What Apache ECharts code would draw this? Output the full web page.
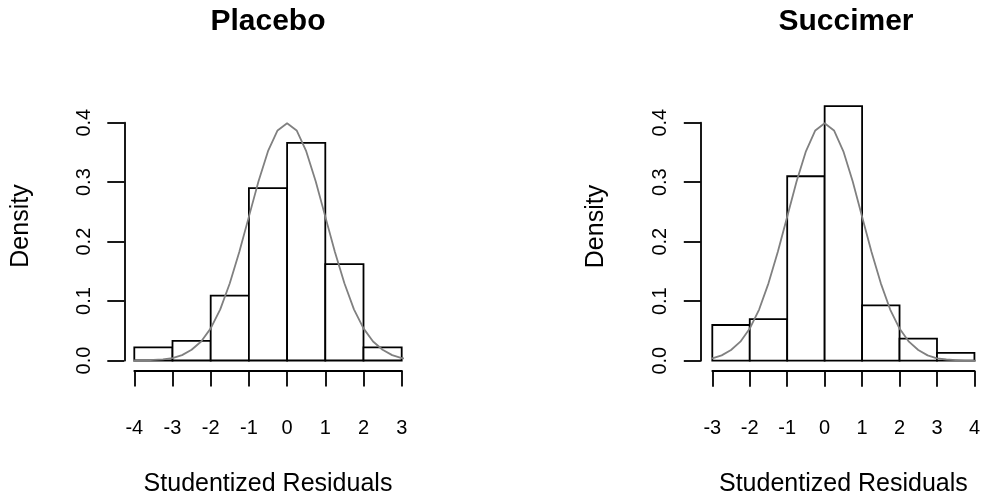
<!DOCTYPE html>
<html>
<head>
<meta charset="utf-8">
<script src="https://cdn.jsdelivr.net/npm/echarts@6/dist/echarts.min.js"></script>
<style>
  html, body { margin: 0; padding: 0; background: #fff; }
  #chart { width: 983px; height: 502px; }
</style>
</head>
<body>
<div id="chart"></div>
<script>
// Histogram bin edges and densities for each treatment group
const placeboBreaks = [-4, -3, -2, -1, 0, 1, 2, 3];
const placeboDensity = [0.022, 0.033, 0.109, 0.290, 0.366, 0.162, 0.022];

const succimerBreaks = [-3, -2, -1, 0, 1, 2, 3, 4];
const succimerDensity = [0.060, 0.070, 0.310, 0.428, 0.093, 0.037, 0.013];

// Reference standard normal density curve (x, density)
const normalX = [-4.25, -4.0, -3.75, -3.5, -3.25, -3.0, -2.75, -2.5, -2.25, -2.0, -1.75, -1.5, -1.25, -1.0, -0.75, -0.5, -0.25,
                 0.0, 0.25, 0.5, 0.75, 1.0, 1.25, 1.5, 1.75, 2.0, 2.25, 2.5, 2.75, 3.0, 3.25, 3.5, 3.75, 4.0, 4.25];
const normalY = [0.000, 0.000, 0.000, 0.001, 0.002, 0.004, 0.009, 0.018, 0.032, 0.054, 0.086, 0.130, 0.183, 0.242, 0.301, 0.352, 0.387,
                 0.399, 0.387, 0.352, 0.301, 0.242, 0.183, 0.130, 0.086, 0.054, 0.032, 0.018, 0.009, 0.004, 0.002, 0.001, 0.000, 0.000, 0.000];

// Density tick values
const densityTicks = [0, 0.1, 0.2, 0.3, 0.4];

const FONT = '"Liberation Sans", Arial, Helvetica, sans-serif';
const INK = '#000';
const CURVE = '#808080';

function binRows(breaks, dens) {
  return dens.map((d, i) => [breaks[i], breaks[i + 1], d]);
}

function curveRows(lo, hi) {
  const rows = [];
  normalX.forEach((x, i) => { if (x >= lo && x <= hi) rows.push([x, normalY[i]]); });
  return rows;
}

function renderBar(params, api) {
  const p0 = api.coord([api.value(0), api.value(2)]);
  const p1 = api.coord([api.value(1), 0]);
  return {
    type: 'rect',
    shape: { x: p0[0], y: p0[1], width: p1[0] - p0[0], height: p1[1] - p0[1] },
    style: { fill: '#fff', stroke: INK, lineWidth: 1.8 }
  };
}

function xAxisFor(idx, breaks) {
  return {
    type: 'value', gridIndex: idx,
    min: breaks[0], max: breaks[breaks.length - 1], interval: 1,
    position: 'bottom', offset: 10,
    axisLine: { show: true, onZero: false, lineStyle: { color: INK, width: 1.8 } },
    axisTick: { show: true, length: 16, lineStyle: { color: INK, width: 1.8 } },
    axisLabel: { color: INK, fontFamily: FONT, fontSize: 20, margin: 48 },
    splitLine: { show: false },
    name: 'Studentized Residuals', nameLocation: 'middle', nameGap: 101,
    nameTextStyle: { color: INK, fontFamily: FONT, fontSize: 25 }
  };
}

function yAxisFor(idx, off) {
  return {
    type: 'value', gridIndex: idx,
    min: densityTicks[0], max: densityTicks[densityTicks.length - 1], interval: 0.1,
    position: 'left', offset: off,
    axisLine: { show: true, onZero: false, lineStyle: { color: INK, width: 1.8 } },
    axisTick: { show: true, length: 17, lineStyle: { color: INK, width: 1.8 } },
    axisLabel: { color: INK, fontFamily: FONT, fontSize: 20, rotate: 90, margin: 30,
                 formatter: v => v.toFixed(1) },
    splitLine: { show: false }
  };
}

const chart = echarts.init(document.getElementById('chart'), null, { renderer: 'canvas' });

chart.setOption({
  animation: false,
  backgroundColor: '#fff',
  grid: [
    { left: 134.3, top: 122.7, width: 267.4, height: 237.8 },
    { left: 712.3, top: 122.7, width: 267.0, height: 238.0 }
  ],
  xAxis: [xAxisFor(0, placeboBreaks), xAxisFor(1, succimerBreaks)],
  yAxis: [yAxisFor(0, 10), yAxisFor(1, 11.5)],
  graphic: [
    { type: 'text', x: 268, y: 22, style: { text: 'Placebo', font: 'bold 30px ' + FONT, fill: INK, textAlign: 'center', textVerticalAlign: 'middle' } },
    { type: 'text', x: 846, y: 22, style: { text: 'Succimer', font: 'bold 30px ' + FONT, fill: INK, textAlign: 'center', textVerticalAlign: 'middle' } },
    { type: 'text', x: 21, y: 226, rotation: Math.PI / 2, style: { text: 'Density', font: '25px ' + FONT, fill: INK, textAlign: 'center', textVerticalAlign: 'middle' } },
    { type: 'text', x: 596, y: 226.5, rotation: Math.PI / 2, style: { text: 'Density', font: '25px ' + FONT, fill: INK, textAlign: 'center', textVerticalAlign: 'middle' } }
  ],
  series: [
    {
      type: 'custom', name: 'Placebo', xAxisIndex: 0, yAxisIndex: 0,
      renderItem: renderBar, encode: { x: [0, 1], y: 2 }, clip: false,
      data: binRows(placeboBreaks, placeboDensity), z: 2
    },
    {
      type: 'line', xAxisIndex: 0, yAxisIndex: 0, clip: false,
      showSymbol: false, symbol: 'none',
      lineStyle: { color: CURVE, width: 1.8 },
      data: curveRows(-4.3, 3.3), z: 3
    },
    {
      type: 'custom', name: 'Succimer', xAxisIndex: 1, yAxisIndex: 1,
      renderItem: renderBar, encode: { x: [0, 1], y: 2 }, clip: false,
      data: binRows(succimerBreaks, succimerDensity), z: 2
    },
    {
      type: 'line', xAxisIndex: 1, yAxisIndex: 1, clip: false,
      showSymbol: false, symbol: 'none',
      lineStyle: { color: CURVE, width: 1.8 },
      data: curveRows(-3.3, 4.3), z: 3
    }
  ]
});
</script>
</body>
</html>
